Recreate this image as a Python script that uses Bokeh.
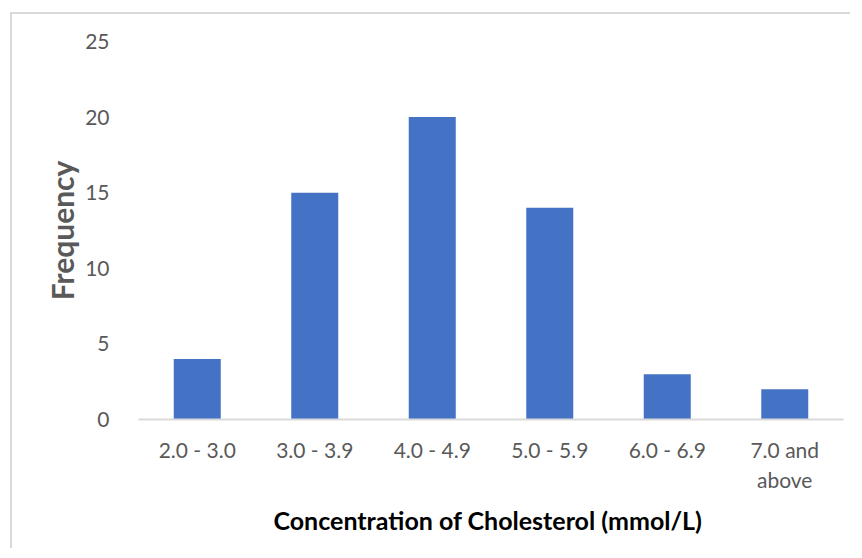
from bokeh.plotting import figure
from bokeh.models import FactorRange, Range1d, FixedTicker
from bokeh.embed import file_html
from bokeh.resources import INLINE

categories = ["2.0 - 3.0", "3.0 - 3.9", "4.0 - 4.9", "5.0 - 5.9", "6.0 - 6.9", "7.0 and\nabove"]
frequency = [4, 15, 20, 14, 3, 2]
y_ticks = [0, 5, 10, 15, 20, 25]

FONT = "Lato"
GRAY = "#595959"

p = figure(width=840, height=536, output_backend="svg", toolbar_location=None,
           x_range=FactorRange(*categories, range_padding=0),
           y_range=Range1d(0, 25),
           min_border_left=126, min_border_right=9, min_border_top=27, min_border_bottom=131)

p.styles = {"margin-left": "10px", "margin-top": "12px",
            "border-left": "2px solid #d9d9d9", "border-top": "2px solid #d9d9d9"}

p.vbar(x=categories, top=frequency, width=0.4, color="#4472C4", line_color=None)

p.outline_line_color = None
p.xgrid.visible = False
p.ygrid.visible = False

# y axis
p.yaxis.ticker = FixedTicker(ticks=y_ticks)
p.yaxis.axis_line_color = None
p.yaxis.major_tick_line_color = None
p.yaxis.minor_tick_line_color = None
p.yaxis.major_label_standoff = 23
p.yaxis.major_label_text_font = FONT
p.yaxis.major_label_text_font_size = "21px"
p.yaxis.major_label_text_color = GRAY
p.yaxis.axis_label = "Frequency"
p.yaxis.axis_label_text_font = FONT
p.yaxis.axis_label_text_font_size = "30px"
p.yaxis.axis_label_text_font_style = "bold"
p.yaxis.axis_label_text_color = GRAY
p.yaxis.axis_label_standoff = 2

# x axis
p.xaxis.axis_line_color = "#d9d9d9"
p.xaxis.axis_line_width = 2
p.xaxis.major_tick_line_color = None
p.xaxis.minor_tick_line_color = None
p.xaxis.major_label_standoff = 11
p.xaxis.major_label_text_font = FONT
p.xaxis.major_label_text_font_size = "21px"
p.xaxis.major_label_text_color = GRAY
p.xaxis.axis_label = "Concentration of Cholesterol  (mmol/L)"
p.xaxis.axis_label_text_font = FONT
p.xaxis.axis_label_text_font_size = "25px"
p.xaxis.axis_label_text_font_style = "bold"
p.xaxis.axis_label_text_color = "black"
p.xaxis.axis_label_standoff = 10

open("out.html", "w").write(file_html(p, INLINE))
